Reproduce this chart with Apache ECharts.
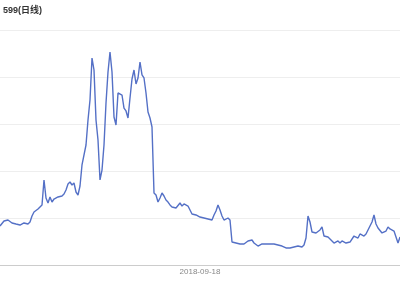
<!DOCTYPE html>
<html>
<head>
<meta charset="utf-8">
<script src="https://cdn.jsdelivr.net/npm/echarts@6/dist/echarts.min.js"></script>
<style>
html,body{margin:0;padding:0;background:#fff;overflow:hidden;}
#chart{width:400px;height:300px;}
</style>
</head>
<body>
<div id="chart"></div>
<script>
const titleText = '599(日线)';
const anchorDate = '2018-09-18';
const anchorIndex = 100;
const tickLabels = ['2018-09-18'];

const closeValues = [
8.30,8.72,9.36,9.15,9.57,9.15,8.94,9.15,8.72,8.94,8.51,8.30,8.94,9.36,8.72,9.15,
10.43,11.28,11.49,11.91,11.70,12.77,18.09,14.26,13.19,14.47,13.40,14.04,13.62,14.47,
14.26,14.68,15.11,15.96,17.23,17.66,17.02,17.45,15.53,14.89,16.81,21.28,21.28,25.53,
30.85,35.11,44.04,41.49,30.85,26.60,18.09,20.21,25.53,34.47,41.06,45.32,41.06,31.49,
29.79,36.60,36.81,36.17,33.40,32.77,31.28,35.53,39.57,41.49,38.51,39.79,43.19,40.43,
39.79,36.60,32.55,31.28,29.36,15.32,14.89,13.40,14.26,15.32,14.68,13.83,13.40,12.77,
12.34,12.34,12.13,12.55,13.19,12.55,12.98,13.19,12.55,11.70,10.85,11.06,10.64,10.43,
10.21,10.21,10.00,10.00,9.79,9.79,9.57,10.64,11.49,12.77,11.70,10.43,9.57,9.15,10.00,
9.57,4.89,4.68,4.68,4.68,4.47,4.26,4.47,4.68,5.11,4.89,5.32,4.68,4.47,4.04,3.83,4.47,
4.68,4.47,4.47,4.47,4.26,4.47,4.26,4.26,4.04,4.04,3.83,3.62,3.62,3.62,3.83,3.83,4.04,
4.04,3.83,3.83,4.26,5.74,10.43,9.15,7.02,7.23,6.81,6.81,7.45,8.09,6.17,5.96,5.96,5.74,
5.11,4.68,4.89,5.11,4.68,5.11,5.11,4.68,4.26,4.89,5.11,6.17,6.17,5.74,6.60,6.81,6.17,
6.60,7.45,7.23,9.15,10.64,8.72,7.87,7.45,6.81,7.02,7.23,8.09,7.66,7.45,7.23,7.02,4.68,5.96
];

// category dates around the one visible date
function buildDates(n, anchor, idx, stepDays) {
  const base = new Date(anchor + 'T00:00:00Z').getTime();
  const out = [];
  for (let i = 0; i < n; i++) {
    const d = new Date(base + (i - idx) * stepDays * 86400000);
    out.push(d.toISOString().slice(0, 10));
  }
  return out;
}
const dates = buildDates(closeValues.length, anchorDate, anchorIndex, 14);

const chart = echarts.init(document.getElementById('chart'), null, {renderer: 'canvas'});
chart.setOption({
  animation: false,
  backgroundColor: '#fff',
  title: {
    text: titleText,
    left: -2,
    top: 1,
    textStyle: {fontSize: 9, fontWeight: 'bold', color: '#333', fontFamily: '"Liberation Sans", "Noto Sans CJK SC", sans-serif'}
  },
  grid: {left: 0, right: 0, top: 30, bottom: 35, containLabel: false, outerBoundsMode: 'none'},
  xAxis: {
    type: 'category',
    data: dates,
    boundaryGap: false,
    axisLine: {lineStyle: {color: '#ccc', width: 1}},
    axisTick: {show: false},
    axisLabel: {
      interval: function (i, v) { return tickLabels.indexOf(v) >= 0; },
      fontSize: 8,
      margin: 3,
      color: '#888',
      fontFamily: 'sans-serif'
    },
    splitLine: {show: false}
  },
  yAxis: {
    type: 'value',
    min: 0,
    max: 50,
    interval: 10,
    axisLabel: {show: false},
    axisLine: {show: false},
    axisTick: {show: false},
    splitLine: {lineStyle: {color: '#eee', width: 1}}
  },
  series: [{
    type: 'line',
    data: closeValues,
    showSymbol: false,
    symbol: 'none',
    lineStyle: {color: '#5470c6', width: 1.4},
    itemStyle: {color: '#5470c6'}
  }]
});
</script>
</body>
</html>
